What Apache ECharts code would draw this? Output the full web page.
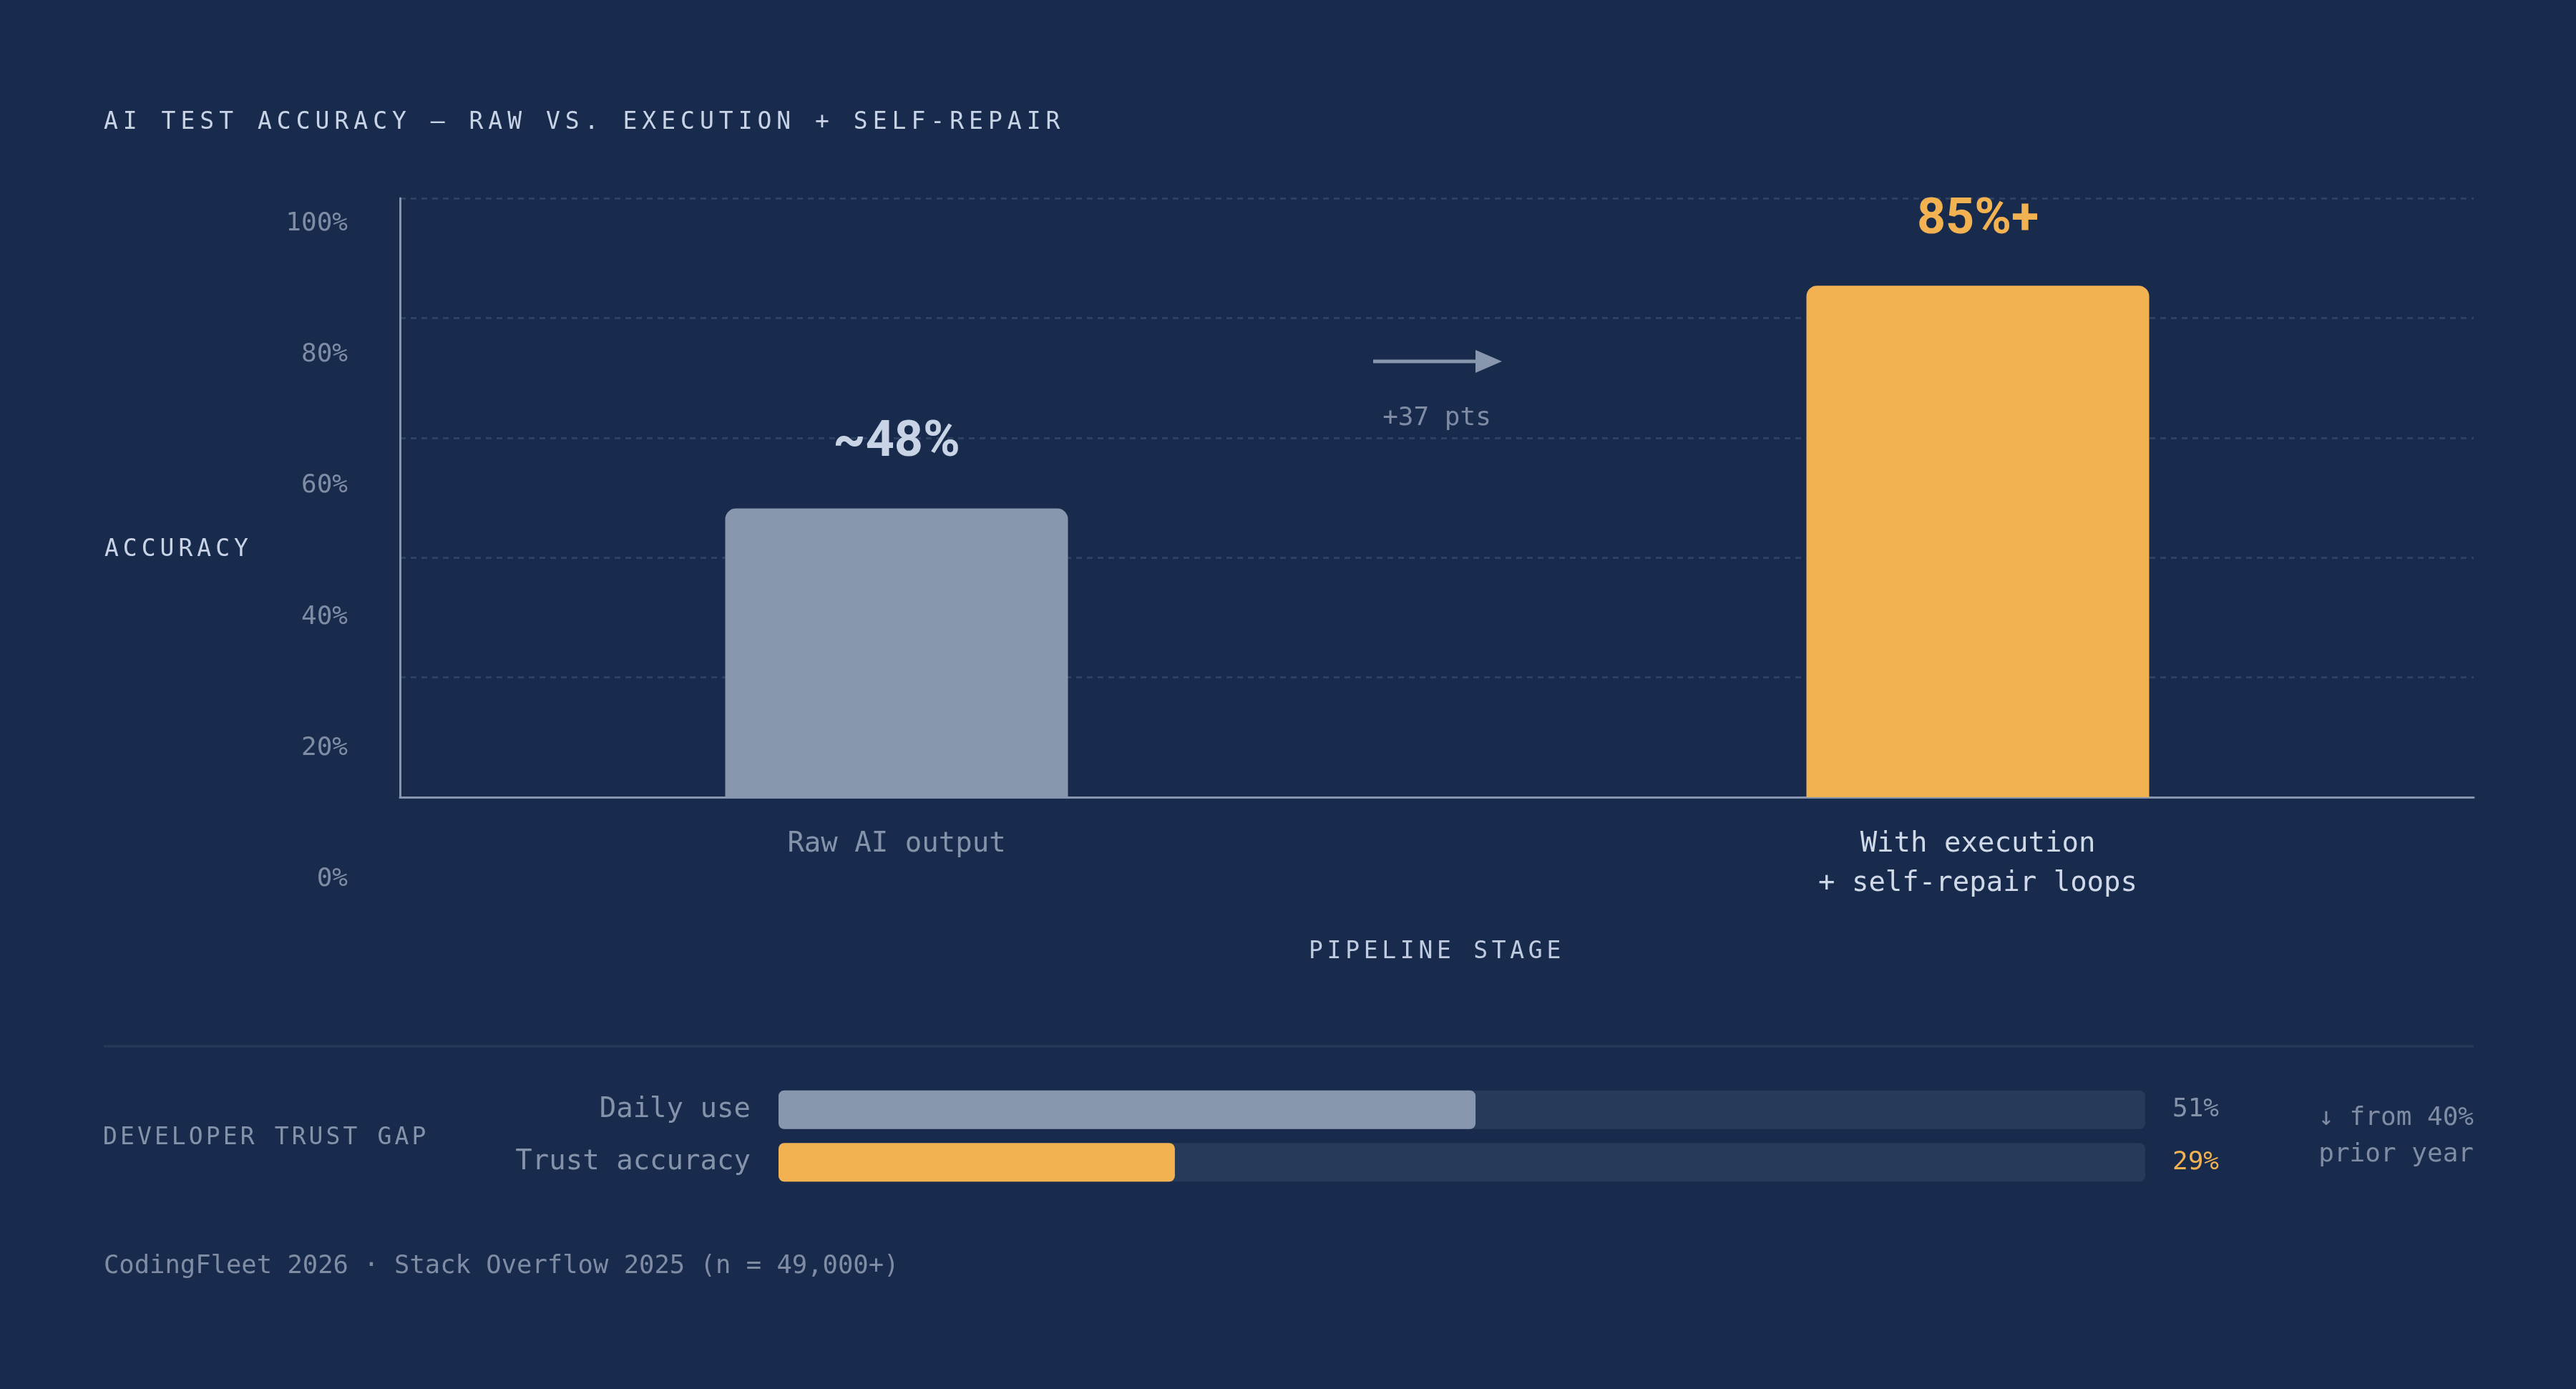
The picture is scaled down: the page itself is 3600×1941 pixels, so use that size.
<!DOCTYPE html>
<html>
<head>
<meta charset="utf-8">
<script src="https://cdn.jsdelivr.net/npm/echarts@6.0.0/dist/echarts.min.js"></script>
<style>
html, body { margin: 0; padding: 0; background: #182b4c; }
#chart { position: absolute; left: 0; top: 0; width: 3600px; height: 1941px; }
.cap { position: absolute; font-family: "DejaVu Sans Mono", monospace; white-space: nowrap; line-height: 1; }
</style>
</head>
<body>
<div id="chart"></div>
<div class="cap" style="left:145px; top:152px; font-size:33px; letter-spacing:7px; color:#c8d3e6;">AI TEST ACCURACY — RAW VS. EXECUTION + SELF-REPAIR</div>
<div class="cap" style="left:146px; top:749px; font-size:33px; letter-spacing:6px; color:#c8d3e6;">ACCURACY</div>
<div class="cap" style="left:2008px; top:1311px; font-size:33px; letter-spacing:5.7px; color:#c0cbe0; transform:translateX(-50%);">PIPELINE STAGE</div>
<div class="cap" style="left:144px; top:1571px; font-size:33px; letter-spacing:4.1px; color:#8593aa;">DEVELOPER TRUST GAP</div>
<script>
// accuracy chart
var stages = ['Raw AI output', 'With execution\n+ self-repair loops'];
var accuracy = [48.2, 85.4];
var accuracyLabels = ['~48%', '85%+'];

// developer trust gap
var trustMetrics = ['Daily use', 'Trust accuracy'];
var trustValues = [51, 29];
var priorTrust = 40;

var source = 'CodingFleet 2026 · Stack Overflow 2025 (n = 49,000+)';

// palette
var bg = '#182b4c';
var gray = '#8897ae';
var orange = '#f2b252';
var muted = '#7f8ca4';
var mono = '"DejaVu Sans Mono", monospace';

var barColors = [gray, orange];
var barLabelColors = ['#c8d3e5', orange];
var stageLabelColors = ['#8593aa', '#d0d9e8'];
var trustColors = [gray, orange];
var trustLabelColors = ['#8593aa', orange];

var myChart = echarts.init(document.getElementById('chart'));

var option = {
    backgroundColor: bg,
    animation: false,
    grid: [
        // frame: axis lines + dashed grid
        { left: 559, right: 143, top: 277, bottom: 827 },
        // bars
        { left: 497.5, right: 80.5, top: 277, bottom: 827 },
        // y tick labels (sit a little lower than the grid lines)
        { left: 559, right: 143, top: 312.5, bottom: 712 },
        // trust gap bars
        { left: 1088, right: 602, top: 1514, bottom: 280 }
    ],
    xAxis: [
        {
            gridIndex: 0, type: 'category', data: stages,
            axisLine: { show: true, lineStyle: { color: '#8796ae', width: 3 } },
            axisTick: { show: false }, axisLabel: { show: false }
        },
        {
            gridIndex: 1, type: 'category', data: stages,
            axisLine: { show: false }, axisTick: { show: false },
            axisLabel: {
                interval: 0, margin: 38, fontSize: 39, lineHeight: 55, fontFamily: mono,
                color: function(v, i) { return stageLabelColors[i]; }
            }
        },
        { gridIndex: 2, type: 'value', show: false },
        { gridIndex: 3, type: 'value', min: 0, max: 100, show: false }
    ],
    yAxis: [
        {
            gridIndex: 0, type: 'value', min: 0, max: 100, interval: 20,
            axisLine: { show: true, lineStyle: { color: '#8796ae', width: 3 } },
            axisTick: { show: false }, axisLabel: { show: false },
            splitLine: { show: true, lineStyle: { color: '#2d4163', width: 3, type: [8, 7] } }
        },
        { gridIndex: 1, type: 'value', min: 0, max: 100, show: false },
        {
            gridIndex: 2, type: 'value', min: 0, max: 100, interval: 20,
            axisLine: { show: false }, axisTick: { show: false }, splitLine: { show: false },
            axisLabel: { formatter: '{value}%', margin: 73, fontSize: 36, fontFamily: mono, color: muted }
        },
        {
            gridIndex: 3, type: 'category', data: trustMetrics, inverse: true,
            axisLine: { show: false }, axisTick: { show: false },
            axisLabel: { margin: 39, fontSize: 39, fontFamily: mono, color: '#8593aa' }
        },
        {
            gridIndex: 3, type: 'category', position: 'right', inverse: true,
            data: trustValues.map(function(v) { return v + '%'; }),
            axisLine: { show: false }, axisTick: { show: false },
            axisLabel: {
                margin: 38, fontSize: 36, fontFamily: mono,
                color: function(v, i) { return trustLabelColors[i]; }
            }
        }
    ],
    series: [
        {
            type: 'bar', xAxisIndex: 1, yAxisIndex: 1, barWidth: 479,
            data: accuracy.map(function(v, i) {
                return { value: v, itemStyle: { color: barColors[i] }, label: { color: barLabelColors[i] } };
            }),
            itemStyle: { borderRadius: [15, 15, 0, 0] },
            label: {
                show: true, position: 'top', distance: 56,
                fontFamily: 'Roboto', fontWeight: 'bold', fontSize: 70,
                formatter: function(p) { return accuracyLabels[p.dataIndex]; }
            }
        },
        {
            type: 'bar', xAxisIndex: 3, yAxisIndex: 3, barWidth: 54,
            data: trustValues.map(function(v, i) {
                return { value: v, itemStyle: { color: trustColors[i] } };
            }),
            itemStyle: { borderRadius: 8 },
            showBackground: true,
            backgroundStyle: { color: '#263a5a', borderRadius: 8 }
        }
    ],
    graphic: [
        { type: 'line', shape: { x1: 145, y1: 1462, x2: 3457, y2: 1462 }, style: { stroke: '#263a5a', lineWidth: 3 } },
        { type: 'line', shape: { x1: 1919, y1: 505, x2: 2066, y2: 505 }, style: { stroke: gray, lineWidth: 5 } },
        { type: 'polygon', shape: { points: [[2062, 489], [2099, 505], [2062, 521]] }, style: { fill: gray } },
        {
            type: 'text', x: 2008, y: 585,
            style: {
                text: '+' + Math.round(accuracy[1] - accuracy[0]) + ' pts', fill: muted,
                fontSize: 36, fontFamily: mono, align: 'center', verticalAlign: 'middle'
            }
        },
        {
            type: 'text', x: 3457, y: 1588,
            style: {
                text: '↓ from ' + priorTrust + '%\nprior year', fill: muted, lineHeight: 51,
                fontSize: 36, fontFamily: mono, align: 'right', verticalAlign: 'middle'
            }
        },
        {
            type: 'text', x: 145, y: 1770,
            style: { text: source, fill: muted, fontSize: 35.5, fontFamily: mono, align: 'left', verticalAlign: 'middle' }
        }
    ]
};
myChart.setOption(option);
</script>
</body>
</html>
